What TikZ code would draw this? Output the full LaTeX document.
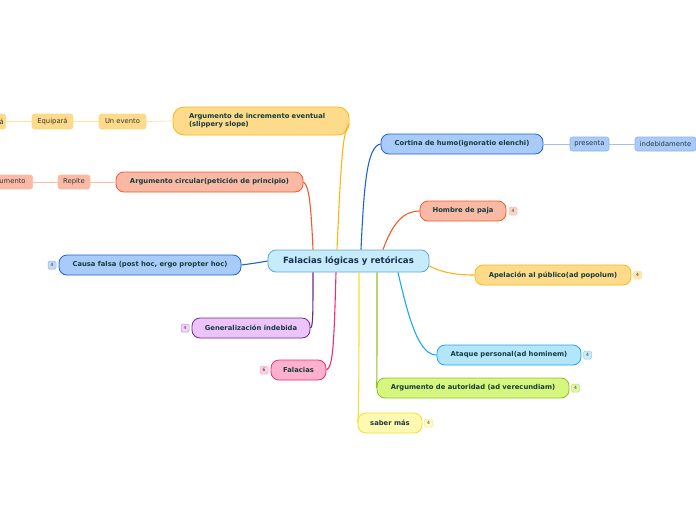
\documentclass[tikz,border=0pt]{standalone}
\usepackage{fontspec}
\setmainfont{DejaVu Sans}
\usetikzlibrary{calc}
\definecolor{txt}{HTML}{163C3C}
\definecolor{ctxt}{HTML}{1A2E52}
\definecolor{ltxt}{HTML}{333333}
\definecolor{cfill}{HTML}{C6EBFB}\definecolor{cline}{HTML}{5AA8D8}
\definecolor{bfill}{HTML}{A9CBF9}\definecolor{bline}{HTML}{1F62D2}
\definecolor{sfill}{HTML}{F9B9A5}\definecolor{sline}{HTML}{F25A2A}
\definecolor{yfill}{HTML}{FDDB8B}\definecolor{yline}{HTML}{FBB614}
\definecolor{kfill}{HTML}{B3E5FB}\definecolor{kline}{HTML}{1EA7EA}
\definecolor{gfill}{HTML}{D6F77F}\definecolor{gline}{HTML}{8DC21F}
\definecolor{lfill}{HTML}{FFF9B2}\definecolor{lline}{HTML}{F2DE2E}
\definecolor{pfill}{HTML}{FDB1CC}\definecolor{pline}{HTML}{EF2A7B}
\definecolor{vfill}{HTML}{EDC3FB}\definecolor{vline}{HTML}{6E2A86}
\tikzset{
  topic/.style={draw, rounded corners=8pt, line width=0.8pt, font=\bfseries\fontsize{6.8}{8.2}\selectfont, text=txt, inner sep=0pt, minimum height=20pt},
  leaf/.style={draw, rounded corners=2.5pt, line width=0.6pt, font=\fontsize{6.8}{8}\selectfont, text=ltxt, inner sep=0pt, minimum height=14pt},
  badge/.style={draw, rounded corners=1.5pt, line width=0.5pt, minimum size=8pt, inner sep=0pt, font=\fontsize{4.5}{4.5}\selectfont, text=ltxt},
  conn/.style={line width=1.1pt},
  lconn/.style={line width=0.7pt}
}
\begin{document}
\begin{tikzpicture}[x=1pt,y=-1pt]
\useasboundingbox (0,0) rectangle (696,520);
\clip (0,0) rectangle (696,520);
% central
\node[draw=cline, fill=cfill, line width=0.8pt, rounded corners=8pt, minimum width=161pt, minimum height=22pt, inner sep=0pt, font=\bfseries\fontsize{8.6}{10}\selectfont, text=ctxt] (c) at (348.5,261) {Falacias lógicas y retóricas};
% topics
\node[topic, draw=bline, fill=bfill, minimum width=162pt] (cort) at (462,144) {Cortina de humo(ignoratio elenchi)};
\node[leaf, draw=bline!50, fill=bfill, minimum width=39pt] (pres) at (589.5,144) {presenta};
\node[leaf, draw=bline!50, fill=bfill, minimum width=61pt] (indeb) at (665.5,144) {indebidamente};
\node[topic, draw=sline, fill=sfill, minimum width=86pt] (hom) at (463,211) {Hombre de paja};
\node[badge, draw=sline!40, fill=sfill!60] (bhom) at (513,211) {4};
\node[topic, draw=yline, fill=yfill, minimum width=156pt] (ape) at (553,275) {Apelación al público(ad popolum)};
\node[badge, draw=yline!40, fill=yfill!70] (bape) at (637.5,275) {4};
\node[topic, draw=kline, fill=kfill, minimum width=144pt] (ata) at (509,355) {Ataque personal(ad hominem)};
\node[badge, draw=kline!50, fill=kfill!70] (bata) at (587.5,355) {4};
\node[topic, draw=gline, fill=gfill, minimum width=192pt] (aut) at (473,388) {Argumento de autoridad (ad verecundiam)};
\node[badge, draw=gline!60, fill=gfill!70] (baut) at (575.5,388) {4};
\node[topic, draw=lline, fill=lfill, minimum width=64pt] (sab) at (390,423) {saber más};
\node[badge, draw=lline!60, fill=lfill!70] (bsab) at (428.5,423) {4};
\node[topic, draw=pline, fill=pfill, minimum width=55pt] (fal) at (298.5,370) {Falacias};
\node[badge, draw=pline!40, fill=pfill!60] (bfal) at (264,370) {6};
\node[topic, draw=vline, fill=vfill, minimum width=118pt] (gen) at (251,328) {Generalización indebida};
\node[badge, draw=vline!50, fill=vfill!70] (bgen) at (185,328) {4};
\node[topic, draw=bline, fill=bfill, minimum width=182pt] (cau) at (150,265) {Causa falsa (post hoc, ergo propter hoc)};
\node[badge, draw=bline!50, fill=bfill!70] (bcau) at (52,265) {4};
\node[topic, draw=sline, fill=sfill, minimum width=187pt] (circ) at (209.5,182) {Argumento circular(petición de principio)};
\node[leaf, draw=sline!40, fill=sfill, minimum width=32pt] (rep) at (74,182) {Repite};
\node[leaf, draw=sline!40, fill=sfill, anchor=east, minimum width=52pt] (arg) at (33,182) {Argumento};
\node[topic, draw=yline, fill=yfill, minimum width=176pt, minimum height=28pt, rounded corners=11pt, align=left, text width=144pt] (slip) at (261,121) {Argumento de incremento eventual\\(slippery slope)};
\node[leaf, draw=yline!50, fill=yfill, minimum width=47pt, minimum height=15pt] (uev) at (122.5,121.5) {Un evento};
\node[leaf, draw=yline!50, fill=yfill, minimum width=41pt, minimum height=15pt] (equ) at (52.5,121.5) {Equipará};
\node[leaf, draw=yline!50, fill=yfill, anchor=east, minimum width=30pt, minimum height=15pt, text width=26pt, align=right] (cau2) at (6,121.5) {á};
% connectors from central
\draw[conn, bline] ([xshift=12.5pt]c.north) .. controls (364,185) and (367,146) .. (cort.west);
\draw[conn, sline] ([xshift=34.5pt]c.north) .. controls (393,222) and (404,211) .. (hom.west);
\draw[conn, yline] ([xshift=-11.5pt]c.north) .. controls (341,160) and (343,128) .. ([yshift=-3pt]slip.east);
\draw[conn, sline] ([xshift=-35.5pt]c.north) .. controls (311,205) and (309,185) .. (circ.east);
\draw[conn, bline] (c.west) .. controls (256,263) .. (cau.east);
\draw[conn, vline] ([xshift=-35.5pt]c.south) .. controls (313,315) and (313,327) .. (gen.east);
\draw[conn, pline] ([xshift=-12.5pt]c.south) .. controls (334,345) and (333,367) .. (fal.east);
\draw[conn, lline] ([xshift=10.5pt]c.south) .. controls (359,350) and (359,420) .. (sab.west);
\draw[conn, gline] ([xshift=28.5pt]c.south) .. controls (377,340) and (377,385) .. (aut.west);
\draw[conn, kline] ([xshift=49.5pt]c.south) .. controls (410,325) and (420,355) .. (ata.west);
\draw[conn, yline] (c.east |- 0,266) .. controls (445,274) and (460,275) .. (ape.west);
% leaf connectors
\draw[lconn, bline!40] (cort.east) -- (pres.west);
\draw[lconn, bline!40] (pres.east) -- (indeb.west);
\draw[lconn, sline!40] (circ.west) -- (rep.east);
\draw[lconn, sline!40] (rep.west) -- (arg.east);
\draw[lconn, yline!40] (slip.west) -- (uev.east);
\draw[lconn, yline!40] (uev.west) -- (equ.east);
\draw[lconn, yline!40] (equ.west) -- (cau2.east);
\end{tikzpicture}
\end{document}
